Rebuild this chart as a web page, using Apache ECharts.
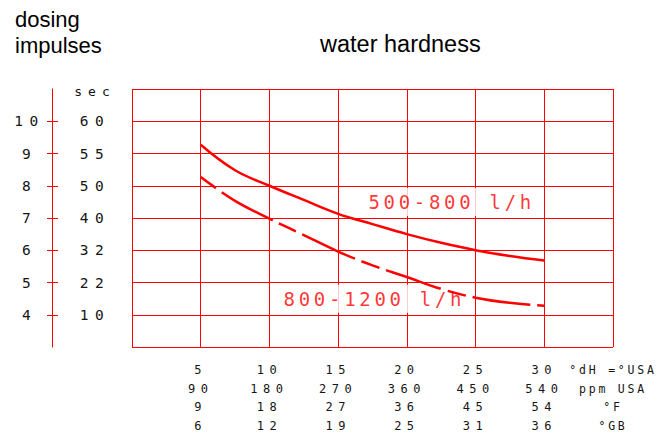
<!DOCTYPE html>
<html>
<head>
<meta charset="utf-8">
<script src="https://cdn.jsdelivr.net/npm/echarts@6/dist/echarts.min.js"></script>
<style>
html,body{margin:0;padding:0;background:#fff;}
#main{width:664px;height:441px;}
#main text[style*="Mono"][style*="19px"]{letter-spacing:3.7px;}
#main text[style*="Mono"][style*="14.5px"]{letter-spacing:6.5px;}
#main text[style*="Mono"][style*="13px"]{letter-spacing:6px;}
#main text[style*="Mono"][style*="12px"]{letter-spacing:5.5px;}
#main text[style*="Mono"][style*="11.5px"]{letter-spacing:2.8px;}
</style>
</head>
<body>
<div id="main"></div>
<script>
// ---- data ----
const hardnessDH = [5, 10, 15, 20, 25, 30];
const ppmUSA = [90, 180, 270, 360, 450, 540];
const degF = [9, 18, 27, 36, 45, 54];
const degGB = [6, 12, 19, 25, 31, 36];
const unitLabels = ['°dH =°USA', 'ppm USA', '°F', '°GB'];
const impulses = [4, 5, 6, 7, 8, 9, 10];
const seconds = [10, 22, 32, 40, 50, 55, 60];
const secUnit = 'sec';
const curveX = [5, 7.5, 10, 12.5, 15, 17.5, 20, 22.5, 25, 27.5, 30];
const flow500to800 = [9.27, 8.48, 8.0, 7.56, 7.13, 6.81, 6.5, 6.23, 6.0, 5.82, 5.68];
const flow800to1200 = [8.27, 7.53, 6.98, 6.47, 5.96, 5.53, 5.17, 4.80, 4.53, 4.37, 4.28];
const seriesNames = ['500-800 l/h', '800-1200 l/h'];
const yTitle = ['dosing', 'impulses'];
const xTitle = 'water hardness';

// ---- annotation anchors (data coords) ----
const labelAnchor500 = [23.26, 7.5];
const labelAnchor800 = [17.64, 4.5];

const RED = '#ff0000';
const TXT = '#151515';
const MONO = 'DejaVu Sans Mono';
const SANS = 'Liberation Sans';

function bottomLabel(v) {
  const i = hardnessDH.indexOf(v);
  if (i >= 0) return [hardnessDH[i], ppmUSA[i], degF[i], degGB[i]].join('\n');
  if (v === 35) return unitLabels.map(u => '{u|' + u + '}').join('\n');
  return '';
}
function secLabel(v) {
  const i = impulses.indexOf(v);
  if (i >= 0) return String(seconds[i]);
  if (v === 11) return '{s|' + secUnit + '}';
  return '';
}

const chart = echarts.init(document.getElementById('main'), null, {renderer: 'svg', width: 664, height: 441});

const curveLabel = (text, pad) => ({
  show: true, position: 'inside', formatter: text,
  fontFamily: MONO, fontSize: 19, color: RED,
  backgroundColor: '#ffffff', padding: pad, lineHeight: 20
});

const option = {
  animation: false,
  backgroundColor: '#ffffff',
  grid: {left: 132, top: 89, width: 481, height: 258, outerBoundsMode: 'none'},
  xAxis: {
    type: 'value', min: 0, max: 35, interval: 5, position: 'bottom',
    axisLine: {show: false}, axisTick: {show: false},
    splitLine: {show: true, lineStyle: {color: RED, width: 1}},
    axisLabel: {
      customValues: [5, 10, 15, 20, 25, 30, 35],
      formatter: bottomLabel, fontFamily: MONO, fontSize: 12, lineHeight: 18.5,
      color: TXT, margin: 14,
      rich: {u: {fontFamily: MONO, fontSize: 11.5, lineHeight: 18.5, color: TXT}}
    }
  },
  yAxis: [
    {
      type: 'value', min: 3, max: 11, interval: 1, position: 'left',
      axisLine: {show: false}, axisTick: {show: false}, axisLabel: {show: false},
      splitLine: {show: true, lineStyle: {color: RED, width: 1}}
    },
    {
      type: 'value', min: 3, max: 11, interval: 1, position: 'left', offset: 80,
      axisLine: {show: true, lineStyle: {color: RED, width: 1}},
      axisTick: {show: true, inside: false, length: 5, customValues: impulses, lineStyle: {color: RED, width: 1}},
      axisLabel: {customValues: impulses, formatter: v => String(v), align: 'center', margin: 22.5,
        fontFamily: MONO, fontSize: 14.5, color: TXT},
      splitLine: {show: false}
    },
    {
      type: 'value', min: 3, max: 11, interval: 1, position: 'left', offset: 80,
      axisLine: {show: false},
      axisTick: {show: true, inside: true, length: 6, customValues: impulses, lineStyle: {color: RED, width: 1}},
      axisLabel: {inside: true, customValues: impulses.concat([11]), formatter: secLabel, align: 'center', margin: 43,
        showMaxLabel: true, fontFamily: MONO, fontSize: 14.5, color: TXT,
        rich: {s: {fontFamily: MONO, fontSize: 13, color: TXT, padding: [4, 0, 0, 0]}}},
      splitLine: {show: false}
    }
  ],
  graphic: [
    {type: 'text', left: 15, top: 8, silent: true,
      style: {text: yTitle[0], font: '22px ' + SANS, fill: '#000'}},
    {type: 'text', left: 15, top: 34, silent: true,
      style: {text: yTitle[1], font: '22px ' + SANS, fill: '#000'}},
    {type: 'text', left: 320, top: 32, silent: true,
      style: {text: xTitle, font: '23.5px ' + SANS, fill: '#000'}}
  ],
  series: [
    {
      type: 'line', name: seriesNames[0], xAxisIndex: 0, yAxisIndex: 0,
      data: curveX.map((x, i) => [x, flow500to800[i]]),
      smooth: 0.4, symbol: 'none', z: 3, silent: true,
      lineStyle: {color: RED, width: 2.5}
    },
    {
      type: 'line', name: seriesNames[1], xAxisIndex: 0, yAxisIndex: 0,
      data: curveX.map((x, i) => [x, flow800to1200[i]]),
      smooth: 0.4, symbol: 'none', z: 3, silent: true,
      lineStyle: {color: RED, width: 2.5, type: [19, 7, 58, 7]}
    },
    {
      type: 'scatter', xAxisIndex: 0, yAxisIndex: 0, z: 1, silent: true,
      data: [labelAnchor500], symbolSize: 1, itemStyle: {color: 'transparent'},
      label: curveLabel(seriesNames[0], [6, 22, 2, 22])
    },
    {
      type: 'scatter', xAxisIndex: 0, yAxisIndex: 0, z: 1, silent: true,
      data: [labelAnchor800], symbolSize: 1, itemStyle: {color: 'transparent'},
      label: curveLabel(seriesNames[1], [8, 22, 0, 22])
    }
  ]
};
chart.setOption(option);
</script>
</body>
</html>
